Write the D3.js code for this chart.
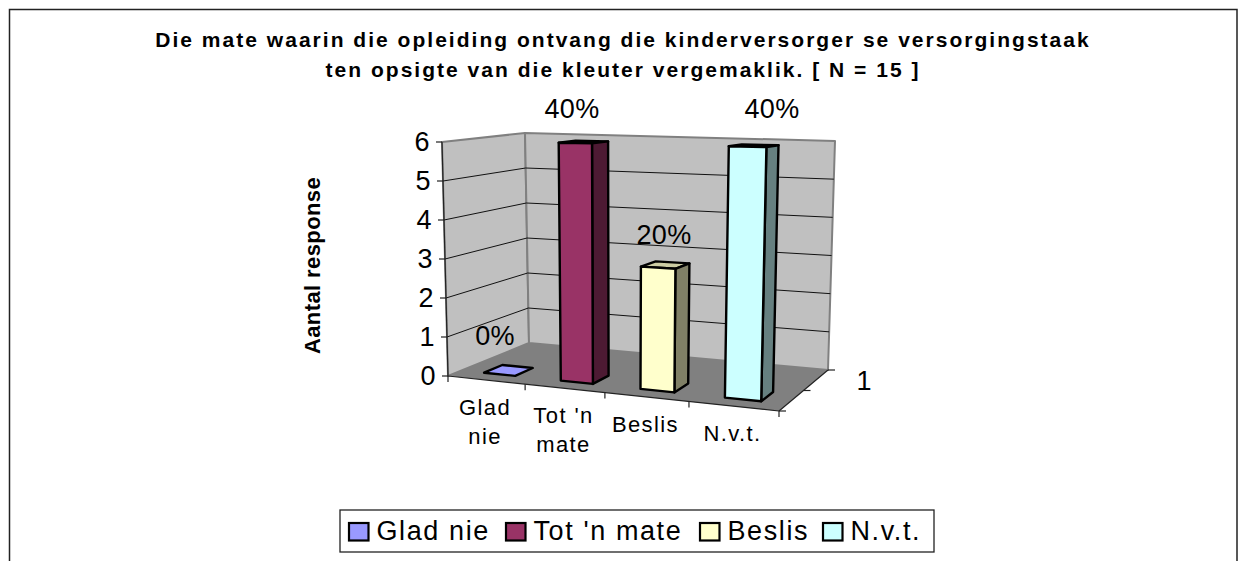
<!DOCTYPE html>
<html><head><meta charset="utf-8">
<script src="https://cdnjs.cloudflare.com/ajax/libs/d3/7.8.5/d3.min.js"></script>
<style>html,body{margin:0;padding:0;background:#fff}svg{display:block}text{font-family:"Liberation Sans",Arial,sans-serif;fill:#000}</style>
</head><body><div id="c"></div>
<script>
const categories = ["Glad nie", "Tot 'n mate", "Beslis", "N.v.t."];
const categoryLines = [["Glad","nie"],["Tot 'n","mate"],["Beslis"],["N.v.t."]];
const values = [0, 6, 3, 6];
const percents = ["0%", "40%", "20%", "40%"];
const colors = ["#9999ff", "#993366", "#ffffcc", "#ccffff"];
const sideColors = ["#4d4d80", "#4d1a33", "#808066", "#668080"];
const topColors = ["#7a7acc", "#1a0a12", "#cccca3", "#0a1414"];
const yTicks = [0, 1, 2, 3, 4, 5, 6];
const titleLines = ["Die mate waarin die opleiding ontvang die kinderversorger se versorgingstaak", "ten opsigte van die kleuter vergemaklik. [ N = 15 ]"];
const yTitle = "Aantal response";
const depthLabel = "1";

const W = 1242, H = 561;
const svg = d3.select("#c").append("svg").attr("width", W).attr("height", H);

// perspective frame corners: f=front, b=back, l=left, r=right; 0=floor, t=top
const C = {fl0:[448,376], fr0:[779,411], bl0:[529,343], br0:[828,370],
           flt:[442,142], frt:[785,149], blt:[525,133], brt:[835,141]};
const uScale = d3.scaleLinear().domain([0,1,2,3,4]).range([0,.233,.474,.728,1]);
const vScale = d3.scaleLinear().domain([0,6]).range([0,1]);
const lerp = (a,b,t)=>[a[0]+(b[0]-a[0])*t, a[1]+(b[1]-a[1])*t];
function project(cat, val, depth){
  const u = uScale(cat), v = vScale(val);
  const f0 = lerp(C.fl0,C.fr0,u), b0 = lerp(C.bl0,C.br0,u);
  const ft = lerp(C.flt,C.frt,u), bt = lerp(C.blt,C.brt,u);
  return lerp(lerp(f0,b0,depth), lerp(ft,bt,depth), v);
}
const poly = pts => "M" + pts.map(p=>p.map(n=>n.toFixed(1)).join(",")).join("L") + "Z";

// outer frame (open at the bottom)
svg.append("path").attr("d", `M9.5,${H}V9.5H1237V${H}`).attr("fill","none").attr("stroke","#222").attr("stroke-width",1.5);

// title
svg.append("g").selectAll("text").data(titleLines).join("text")
  .attr("x",623).attr("y",(d,i)=>47+i*29.5).attr("text-anchor","middle")
  .attr("font-weight","bold").attr("font-size",21).attr("letter-spacing",2.02).text(d=>d);

// walls and floor
const wallStyle = s => s.attr("fill","#c0c0c0").attr("stroke","#808080").attr("stroke-width",2).attr("stroke-linejoin","round");
svg.append("path").attr("d",poly([C.fl0,C.flt,C.blt,C.bl0])).call(wallStyle);
svg.append("path").attr("d",poly([C.bl0,C.blt,C.brt,C.br0])).call(wallStyle);
svg.append("path").attr("d",poly([C.fl0,C.bl0,C.br0,C.fr0])).attr("fill","#808080");

// gridlines
const grid = svg.append("g").attr("stroke","#111").attr("stroke-width",1).attr("fill","none");
yTicks.filter(t=>t>0&&t<6).forEach(t=>{
  const a=lerp(C.fl0,C.flt,vScale(t)), b=lerp(C.bl0,C.blt,vScale(t)), c=lerp(C.br0,C.brt,vScale(t));
  grid.append("path").attr("d",`M${a}L${b}L${c}`);
});

// axes
const ax = svg.append("g").attr("stroke","#222").attr("stroke-width",1.2).attr("fill","none");
ax.append("path").attr("d",`M${C.fl0}L${C.flt}`);
ax.append("path").attr("d",`M${C.fl0}L${C.fr0}`);
ax.append("path").attr("d",`M${C.fr0}L${C.br0}`);
yTicks.forEach(t=>{
  const p=lerp(C.fl0,C.flt,vScale(t));
  ax.append("path").attr("d",`M${p[0]-6},${p[1]}H${p[0]}`);
  svg.append("text").attr("x",p[0]-12.5).attr("y",p[1]+9).attr("text-anchor","end").attr("font-size",27).text(t);
});
[0,1,2,3,4].forEach(c=>{
  const p=project(c,0,0);
  ax.append("path").attr("d",`M${p[0]},${p[1]}V${p[1]+6}`);
});
[0,.5,1].forEach(d=>{
  const p=lerp(C.fr0,C.br0,d);
  ax.append("path").attr("d",`M${p[0]},${p[1]}h7`);
});
svg.append("text").attr("x",856.5).attr("y",390).attr("font-size",27).text(depthLabel);

// category labels
categoryLines.forEach((lines,i)=>{
  const p=project(i+.5,0,0);
  svg.append("g").selectAll("text").data(lines).join("text")
    .attr("x",p[0]-1.5).attr("y",(d,j)=>p[1]+35+j*28.5).attr("text-anchor","middle")
    .attr("font-size",22).attr("letter-spacing",1.4).text(d=>d);
});

// bars
const half=.205, dF=.17, dB=.4;
const bars = svg.append("g").attr("stroke","#000").attr("stroke-width",2.4).attr("stroke-linejoin","round");
values.forEach((val,i)=>{
  const c=i+.5, l=c-half, r=c+half;
  const g=bars.append("g");
  g.append("path").attr("d",poly([project(l,val,dF),project(r,val,dF),project(r,val,dB),project(l,val,dB)])).attr("fill",topColors[i]);
  if(val>0){
    g.append("path").attr("d",poly([project(r,0,dF),project(r,val,dF),project(r,val,dB),project(r,0,dB)])).attr("fill",sideColors[i]);
    g.append("path").attr("d",poly([project(l,0,dF),project(r,0,dF),project(r,val,dF),project(l,val,dF)])).attr("fill",colors[i]);
  } else {
    g.select("path").attr("fill",colors[i]);
  }
});

// data labels
const labelX = d3.scaleLinear().domain([0,1,2,3]).range([495,572,664,772]);
const labelY = d3.scaleLinear().domain([0,3,6]).range([345,243.5,118]);
percents.forEach((t,i)=>{
  svg.append("text").attr("x",labelX(i)).attr("y",labelY(values[i])).attr("text-anchor","middle").attr("font-size",27).attr("letter-spacing",.3).text(t);
});

// y title
svg.append("text").attr("transform","translate(320,265.5) rotate(-90)").attr("text-anchor","middle")
  .attr("font-weight","bold").attr("font-size",22).attr("letter-spacing",.4).text(yTitle);

// legend
svg.append("rect").attr("x",340).attr("y",510).attr("width",594).attr("height",42).attr("fill","#fff").attr("stroke","#222").attr("stroke-width",1.3);
const legX = d3.scaleOrdinal().domain(categories).range([348,505,699,822]);
categories.forEach((c,i)=>{
  const x=legX(c);
  svg.append("rect").attr("x",x+1).attr("y",523).attr("width",19.5).attr("height",17.5).attr("fill",colors[i]).attr("stroke","#000").attr("stroke-width",2.2);
  svg.append("text").attr("x",x+28.5).attr("y",540).attr("font-size",27).attr("letter-spacing",1.6).text(c);
});
</script></body></html>
